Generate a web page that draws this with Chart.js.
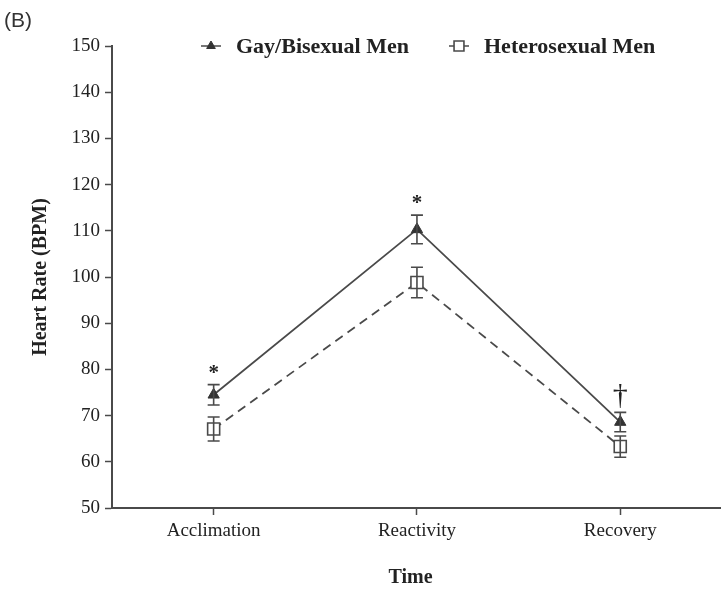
<!DOCTYPE html>
<html>
<head>
<meta charset="utf-8">
<script src="https://cdn.jsdelivr.net/npm/chart.js@4.4.1/dist/chart.umd.min.js"></script>
<style>
  html, body { margin: 0; padding: 0; background: #fff; overflow: hidden; }
  #wrap { width: 721px; height: 590px; overflow: hidden; }
</style>
</head>
<body>
<div id="wrap"><canvas id="canvas" width="732" height="590"></canvas></div>
<script>
const phases = ['Acclimation', 'Reactivity', 'Recovery'];

const gayMean = [74.5, 110.3, 68.6];
const gayErr = [2.2, 3.1, 2.1];

const heteroMean = [67.1, 98.8, 63.3];
const heteroErr = [2.6, 3.3, 2.3];

// significance marks above the gay/bisexual group
const sigMarks = ['*', '*', '\u2020'];

const yTicks = [50, 60, 70, 80, 90, 100, 110, 120, 130, 140, 150];

const ink = '#4a4a4a';
const serif = "'Liberation Serif', 'Times New Roman', serif";

// vertical error bars with caps
const errorBars = {
  id: 'errorBars',
  afterDatasetsDraw(chart) {
    const ctx = chart.ctx;
    const x = chart.scales.x;
    const y = chart.scales.y;
    ctx.save();
    ctx.setLineDash([]);
    ctx.strokeStyle = ink;
    ctx.lineWidth = 1.6;
    chart.data.datasets.forEach((ds) => {
      ds.data.forEach((v, i) => {
        const px = x.getPixelForValue(i);
        const top = y.getPixelForValue(v + ds.errors[i]);
        const bot = y.getPixelForValue(v - ds.errors[i]);
        ctx.beginPath();
        ctx.moveTo(px, top); ctx.lineTo(px, bot);
        ctx.moveTo(px - 6, top); ctx.lineTo(px + 6, top);
        ctx.moveTo(px - 6, bot); ctx.lineTo(px + 6, bot);
        ctx.stroke();
      });
    });
    // * and dagger over the upper group
    ctx.fillStyle = '#222';
    ctx.textAlign = 'center';
    ctx.textBaseline = 'bottom';
    gayMean.forEach((v, i) => {
      const px = x.getPixelForValue(i);
      const top = y.getPixelForValue(v + gayErr[i]);
      if (sigMarks[i] === '*') {
        ctx.font = 'bold 21px ' + serif;
        ctx.fillText('*', px, top - 1);
      } else {
        ctx.font = '30px ' + serif;
        ctx.fillText(sigMarks[i], px, top - 1);
      }
    });
    ctx.restore();
  }
};

// legend row and panel letter
const legendRow = {
  id: 'legendRow',
  afterDraw(chart) {
    const ctx = chart.ctx;
    const ly = chart.chartArea.top;
    const items = [{ ds: chart.data.datasets[0], x: 211 }, { ds: chart.data.datasets[1], x: 459 }];
    ctx.save();
    ctx.setLineDash([]);
    items.forEach((it) => {
      const ds = it.ds;
      ctx.strokeStyle = ds.borderColor;
      ctx.lineWidth = 1.5;
      ctx.beginPath();
      ctx.moveTo(it.x - 10, ly); ctx.lineTo(it.x + 10, ly);
      ctx.stroke();
      ctx.fillStyle = ds.pointBackgroundColor;
      ctx.strokeStyle = ds.pointBorderColor;
      ctx.lineWidth = ds.pointBorderWidth;
      Chart.helpers.drawPoint(ctx, {
        pointStyle: ds.pointStyle,
        radius: ds.pointRadius - 1.5,
        borderWidth: ds.pointBorderWidth,
        rotation: 0
      }, it.x, ly);
      ctx.fillStyle = '#222';
      ctx.font = 'bold 22px ' + serif;
      ctx.textAlign = 'left';
      ctx.textBaseline = 'middle';
      ctx.fillText(ds.label, it.x + 25, ly + 1);
    });
    ctx.fillStyle = '#333';
    ctx.font = "21px 'Liberation Sans', Arial, sans-serif";
    ctx.textAlign = 'left';
    ctx.textBaseline = 'middle';
    ctx.fillText('(B)', 4, 21);
    // x axis title, centred under the middle phase
    const x = chart.scales.x;
    ctx.fillStyle = '#222';
    ctx.font = 'bold 20px ' + serif;
    ctx.textAlign = 'center';
    ctx.fillText('Time', (x.left + 709) / 2, 578);
    ctx.restore();
  }
};

new Chart(document.getElementById('canvas'), {
  type: 'line',
  data: {
    labels: phases,
    datasets: [
      {
        label: 'Gay/Bisexual Men',
        data: gayMean,
        errors: gayErr,
        borderColor: ink,
        borderWidth: 1.8,
        pointStyle: 'triangle',
        pointRadius: 6.5,
        pointBackgroundColor: '#333',
        pointBorderColor: '#333',
        pointBorderWidth: 1,
        tension: 0
      },
      {
        label: 'Heterosexual Men',
        data: heteroMean,
        errors: heteroErr,
        borderColor: ink,
        borderWidth: 1.8,
        borderDash: [9, 6],
        pointStyle: 'rect',
        pointRadius: 8.5,
        pointBackgroundColor: '#fff',
        pointBorderColor: ink,
        pointBorderWidth: 1.6,
        tension: 0
      }
    ]
  },
  options: {
    responsive: false,
    animation: false,
    layout: { padding: { top: 46, right: 0, bottom: 0, left: 0 } },
    plugins: {
      legend: { display: false },
      tooltip: { enabled: false }
    },
    scales: {
      x: {
        type: 'category',
        offset: true,
        afterFit(s) { s.height = 82; },
        grid: { offset: false, drawOnChartArea: false, drawTicks: true, tickLength: 7, tickColor: ink, tickWidth: 1.5 },
        border: { display: true, color: ink, width: 2 },
        ticks: { color: '#222', font: { family: serif, size: 19 }, padding: 5 },
        title: { display: false }
      },
      y: {
        min: 50,
        max: 150,
        afterFit(s) { s.width = 112; },
        afterBuildTicks(s) { s.ticks = yTicks.map((v) => ({ value: v })); },
        grid: { drawOnChartArea: false, drawTicks: true, tickLength: 7, tickColor: ink, tickWidth: 1.5 },
        border: { display: true, color: ink, width: 2 },
        ticks: { color: '#222', font: { family: serif, size: 19 }, padding: 5 },
        title: { display: true, text: 'Heart Rate (BPM)', color: '#222', font: { family: serif, size: 20, weight: 'bold' }, padding: { top: 29, bottom: 0 } }
      }
    }
  },
  plugins: [errorBars, legendRow]
});
</script>
</body>
</html>
